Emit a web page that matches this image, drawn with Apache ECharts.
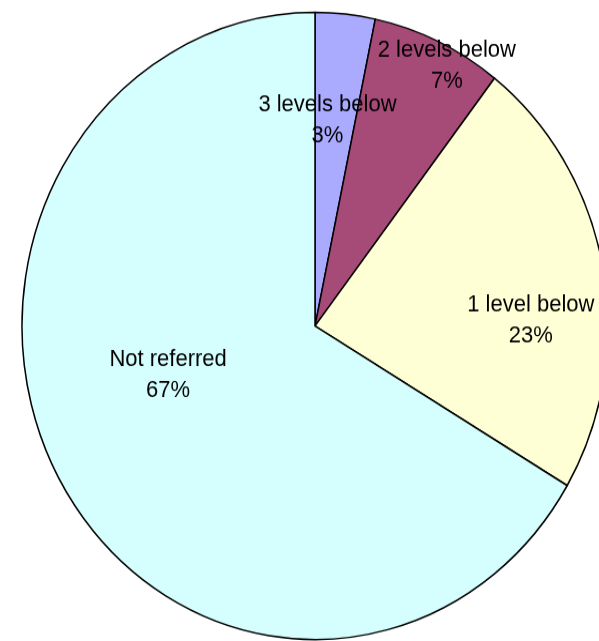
<!DOCTYPE html>
<html>
<head>
<meta charset="utf-8">
<script src="https://cdn.jsdelivr.net/npm/echarts@6/dist/echarts.min.js"></script>
<style>
html,body{margin:0;padding:0;background:#fff;}
#wrap{width:599px;height:641px;overflow:hidden;position:relative;}
#chart{width:599px;height:599px;transform:scaleY(1.0701);transform-origin:0 0;position:absolute;left:0;top:0;}
</style>
</head>
<body>
<div id="wrap"><div id="chart"></div></div>
<script>
// Data
var categories = ['3 levels below', '2 levels below', '1 level below', 'Not referred'];
var values = [3.3, 7.2, 23.0, 66.5];
var colors = ['#AAAAFF', '#A64A78', '#FFFFD5', '#D5FFFF'];

// label offsets from the default inside position (layout only)
var labelShift = [[-3, -43], [69, -107], [69, 23], [-17, -28]];

var chart = echarts.init(document.getElementById('chart'), null, {renderer: 'canvas'});
chart.setOption({
  animation: false,
  series: [{
    type: 'pie',
    center: [315, 304.6],
    radius: [0, 293],
    startAngle: 90,
    clockwise: true,
    avoidLabelOverlap: false,
    data: categories.map(function (c, i) {
      return {name: c, value: values[i], itemStyle: {color: colors[i]}};
    }),
    itemStyle: {borderColor: '#000', borderWidth: 1.5},
    label: {
      show: true,
      position: 'inside',
      color: '#000',
      textBorderWidth: 0,
      fontFamily: 'Liberation Sans, Arial, sans-serif',
      fontSize: 22,
      lineHeight: 29,
      align: 'center',
      formatter: function (p) { return p.name + '\n' + Math.round(p.percent) + '%'; }
    },
    labelLine: {show: false},
    labelLayout: function (params) {
      var s = labelShift[params.dataIndex];
      return {dx: s[0], dy: s[1]};
    },
    emphasis: {disabled: true}
  }]
});
</script>
</body>
</html>
